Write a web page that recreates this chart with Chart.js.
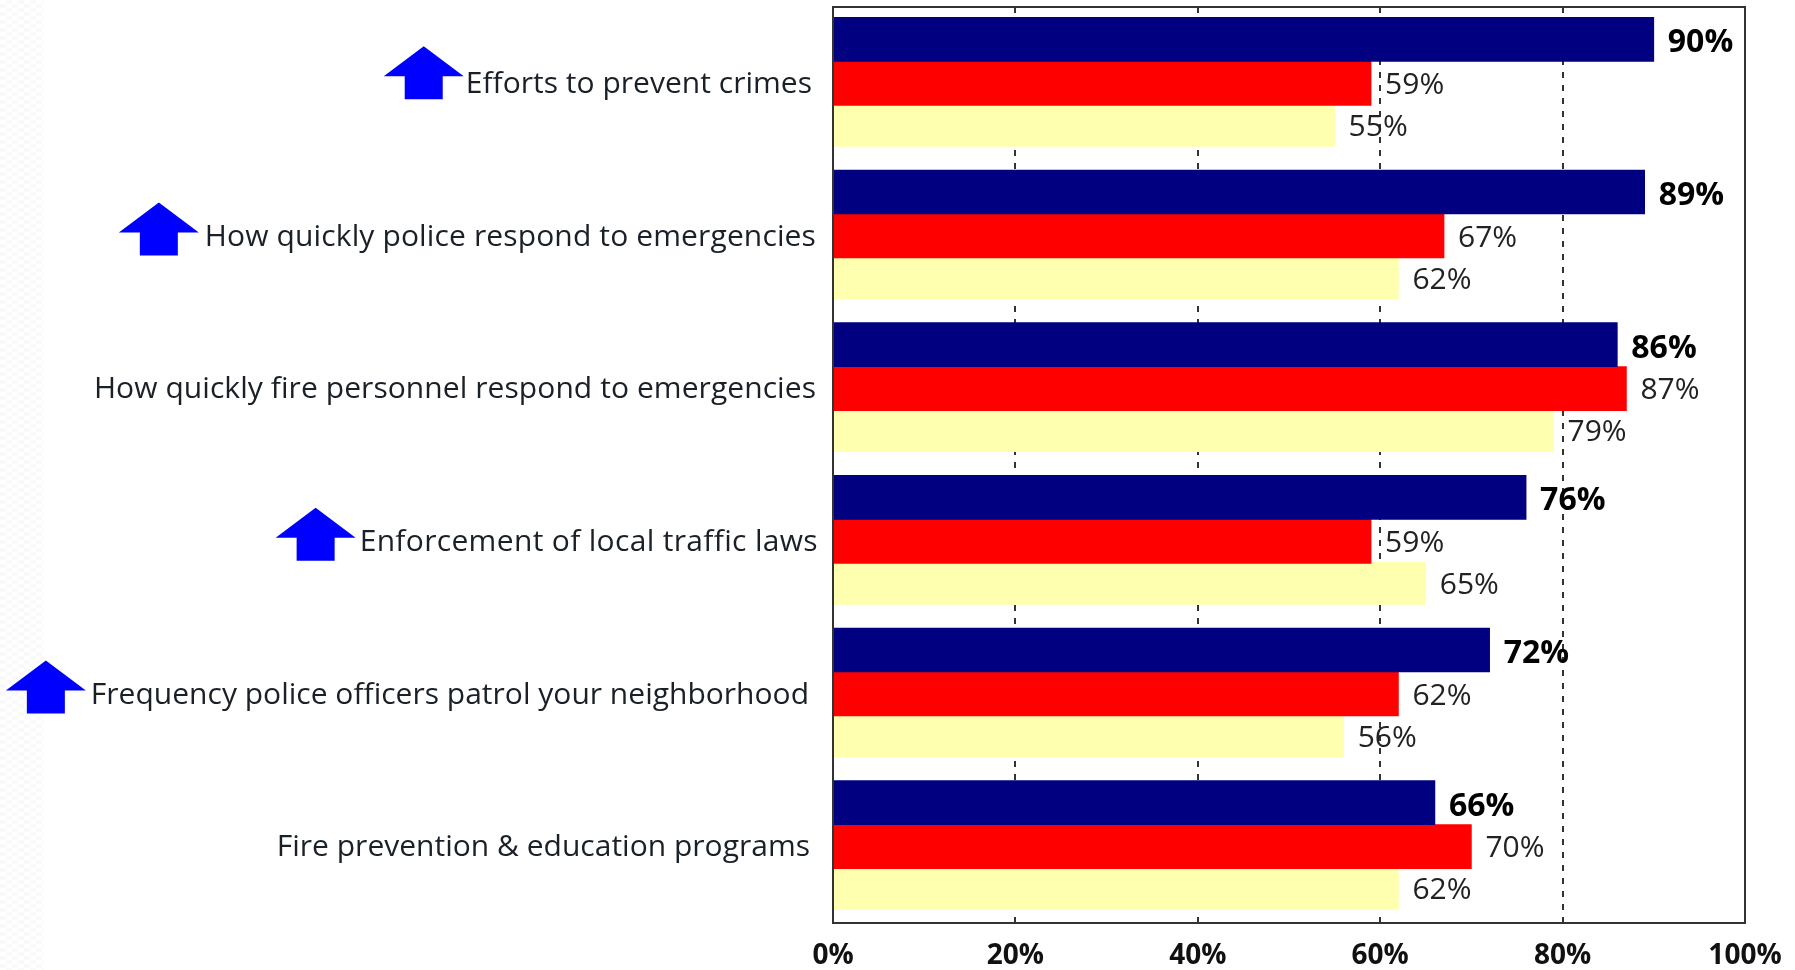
<!DOCTYPE html>
<html>
<head>
<meta charset="utf-8">
<title>Service ratings</title>
<script src="https://cdn.jsdelivr.net/npm/chart.js@4"></script>
<style>
  html, body { margin: 0; padding: 0; background: #fff; }
  #wrap { position: relative; width: 1795px; height: 970px; }
  /* faint speckled strip down the left edge */
  #strip {
    position: absolute; left: 0; top: 0; width: 44px; height: 970px;
    background: repeating-conic-gradient(#fafafa 0 25%, #fff 0 50%) 0 0 / 12px 8px;
  }
  canvas { position: absolute; left: 0; top: 0; }
</style>
</head>
<body>
<div id="wrap"><div id="strip"></div><canvas id="ratingChart" width="1795" height="970"></canvas></div>
<script>
const categories = [
  'Efforts to prevent crimes',
  'How quickly police respond to emergencies',
  'How quickly fire personnel respond to emergencies',
  'Enforcement of local traffic laws',
  'Frequency police officers patrol your neighborhood',
  'Fire prevention & education programs'
];
const navyValues = [90, 89, 86, 76, 72, 66];
const redValues = [59, 67, 87, 59, 62, 70];
const yellowValues = [55, 62, 79, 65, 56, 62];
const improved = [true, true, false, true, true, false];

// per-row tweaks: label gap from the axis, letter spacing, arrow gap and drop
const labelGaps = [21, 17, 17, 15, 24, 23];
const labelSpacing = [0.02, 0.13, 0.07, 0.33, 0.01, 0.01];
const arrowGaps = [2, 6, 0, 4, 5, 0];
const arrowDrops = [0, 3.5, 0, 3.5, 3.5, 0];

const textFont = '"Open Sans", sans-serif';
const labelSize = 30;
const boldSize = 32;

// category labels, up arrows, value labels and the box around the plot
const chartExtras = {
  id: 'chartExtras',
  afterDatasetsDraw(chart) {
    const ctx = chart.ctx;
    const area = chart.chartArea;
    const yScale = chart.scales.y;

    ctx.save();
    ctx.textBaseline = 'middle';

    // value labels
    chart.data.datasets.forEach((ds, d) => {
      chart.getDatasetMeta(d).data.forEach((bar, i) => {
        ctx.font = d === 0 ? 'bold ' + boldSize + 'px ' + textFont : labelSize + 'px ' + textFont;
        ctx.fillStyle = d === 0 ? '#000' : '#222';
        ctx.textAlign = 'left';
        ctx.fillText(ds.data[i] + '%', bar.x + 14, bar.y + (d === 0 ? 4 : 2));
      });
    });

    // category labels with arrows
    categories.forEach((name, i) => {
      const y = yScale.getPixelForValue(i);
      const right = area.left - labelGaps[i];
      ctx.font = labelSize + 'px ' + textFont;
      ctx.letterSpacing = labelSpacing[i] + 'px';
      ctx.fillStyle = '#1a2028';
      ctx.textAlign = 'right';
      ctx.fillText(name, right, y + 1);
      if (improved[i]) {
        const w = ctx.measureText(name).width;
        drawArrow(ctx, right - w - arrowGaps[i] - 40, y + arrowDrops[i]);
      }
      ctx.letterSpacing = '0px';
    });

    // box
    ctx.strokeStyle = '#333';
    ctx.lineWidth = 2;
    ctx.strokeRect(area.left, area.top, area.right - area.left, area.bottom - area.top);
    ctx.restore();
  }
};

function drawArrow(ctx, cx, cy) {
  ctx.fillStyle = '#0000ff';
  ctx.beginPath();
  ctx.moveTo(cx, cy - 37);
  ctx.lineTo(cx + 40, cy - 7);
  ctx.lineTo(cx + 19, cy - 7);
  ctx.lineTo(cx + 19, cy + 16);
  ctx.lineTo(cx - 19, cy + 16);
  ctx.lineTo(cx - 19, cy - 7);
  ctx.lineTo(cx - 40, cy - 7);
  ctx.closePath();
  ctx.fill();
}

new Chart(document.getElementById('ratingChart'), {
  type: 'bar',
  data: {
    labels: categories,
    datasets: [
      { label: 'Navy', data: navyValues, backgroundColor: '#000080', barThickness: 44 },
      { label: 'Red', data: redValues, backgroundColor: '#ff0000', barThickness: 44 },
      { label: 'Yellow', data: yellowValues, backgroundColor: '#ffffb0', barThickness: 42 }
    ]
  },
  options: {
    indexAxis: 'y',
    responsive: false,
    animation: false,
    layout: { padding: { left: 833, right: 50, top: 7, bottom: 0 } },
    plugins: { legend: { display: false }, tooltip: { enabled: false } },
    scales: {
      x: {
        min: 0,
        max: 100,
        ticks: {
          stepSize: 20,
          maxRotation: 0,
          callback: v => v + '%',
          color: '#111',
          font: { family: textFont, size: 28, weight: 'bold' },
          padding: 16
        },
        grid: { color: '#333', lineWidth: 2, drawTicks: false },
        border: { dash: [6, 7], display: false },
        afterFit(scale) {
          scale.height = 47;
          scale.paddingLeft = 0;
          scale.paddingRight = 0;
        }
      },
      y: {
        ticks: { display: false },
        grid: { display: false },
        border: { display: false },
        afterFit(scale) { scale.width = 0; }
      }
    }
  },
  plugins: [chartExtras]
});
</script>
</body>
</html>
